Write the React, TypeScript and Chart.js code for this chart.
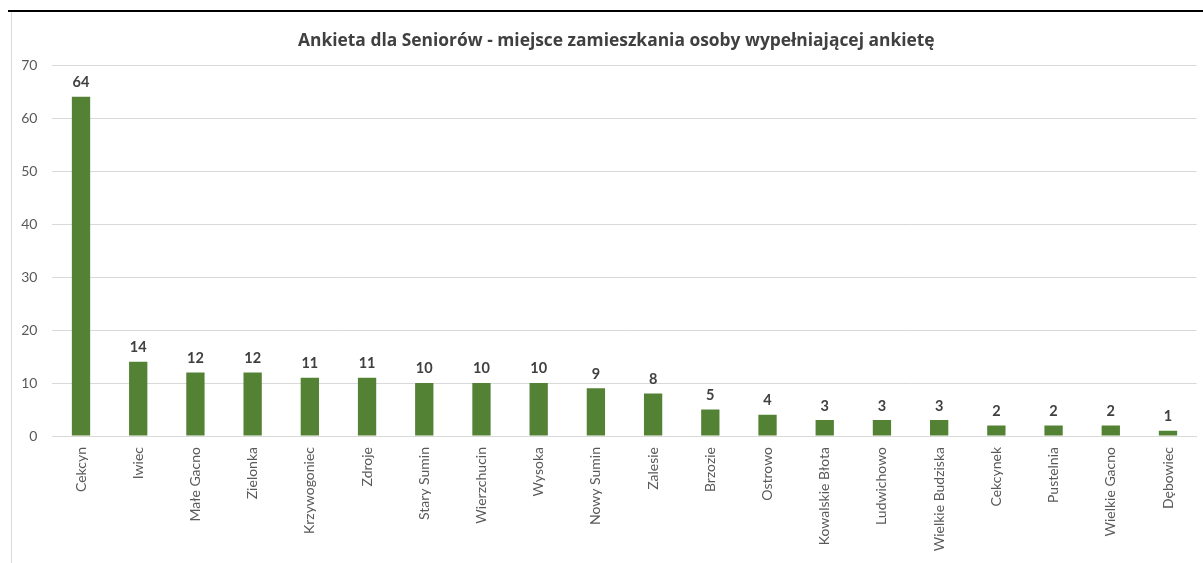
import React, { useEffect, useRef } from "react";
import { Chart, registerables } from "chart.js";

Chart.register(...registerables);

const categories = [
  "Cekcyn", "Iwiec", "Małe Gacno", "Zielonka", "Krzywogoniec", "Zdroje",
  "Stary Sumin", "Wierzchucin", "Wysoka", "Nowy Sumin", "Zalesie", "Brzozie",
  "Ostrowo", "Kowalskie Błota", "Ludwichowo", "Wielkie Budziska", "Cekcynek",
  "Pustelnia", "Wielkie Gacno", "Dębowiec",
];
const values = [64, 14, 12, 12, 11, 11, 10, 10, 10, 9, 8, 5, 4, 3, 3, 3, 2, 2, 2, 1];
const yTicks = [0, 10, 20, 30, 40, 50, 60, 70];
const titleText = "Ankieta dla Seniorów - miejsce zamieszkania osoby wypełniającej ankietę";

const FONT = "Lato, 'Open Sans', sans-serif";
const TITLE_FONT = "'Open Sans', Lato, sans-serif";

const valueLabels = {
  id: "valueLabels",
  afterDatasetsDraw(chart: any) {
    const ctx = chart.ctx;
    const meta = chart.getDatasetMeta(0);
    ctx.save();
    ctx.font = `bold 14.5px ${FONT}`;
    ctx.fillStyle = "#404040";
    ctx.textAlign = "center";
    ctx.textBaseline = "bottom";
    meta.data.forEach((bar: any, i: number) => {
      ctx.fillText(String(values[i]), bar.x, bar.y - 7);
    });
    ctx.restore();
  },
};

// Excel centres the title over the whole chart object, which is wider than the visible crop
const titleShift = {
  id: "titleShift",
  afterLayout(chart: any) {
    if (chart.titleBlock) chart.titleBlock.left += 24;
  },
};

export default function App() {
  const ref = useRef<HTMLCanvasElement | null>(null);
  useEffect(() => {
    if (!ref.current) return;
    const chart = new Chart(ref.current, {
      type: "bar",
      data: {
        labels: categories,
        datasets: [
          {
            data: values,
            backgroundColor: "#548235",
            barPercentage: 0.32,
            categoryPercentage: 1,
          },
        ],
      },
      options: {
        animation: false,
        responsive: false,
        maintainAspectRatio: false,
        layout: { padding: { left: 0, right: 6.4, top: 0, bottom: 0 } },
        plugins: {
          legend: { display: false },
          tooltip: { enabled: false },
          title: {
            display: true,
            text: titleText,
            color: "#404040",
            font: { family: TITLE_FONT, size: 17.4, weight: "bold" },
            padding: { top: 17.56, bottom: 13.56 },
          },
        },
        scales: {
          x: {
            grid: { display: false, drawTicks: false },
            border: { display: true, color: "#d9d9d9" },
            ticks: {
              color: "#595959",
              font: { family: FONT, size: 14 },
              minRotation: 90,
              maxRotation: 90,
              autoSkip: false,
              padding: 11,
            },
            afterFit(scale: any) {
              scale.height = 127;
            },
          },
          y: {
            min: 0,
            max: 70,
            afterBuildTicks(scale: any) {
              scale.ticks = yTicks.map((v) => ({ value: v }));
            },
            grid: { color: "#d9d9d9", drawTicks: false },
            border: { display: false },
            ticks: {
              color: "#595959",
              font: { family: FONT, size: 14 },
              padding: 15,
            },
            afterFit(scale: any) {
              scale.width = 40.4;
            },
          },
        },
      },
      plugins: [valueLabels, titleShift],
    });
    return () => chart.destroy();
  }, []);

  return (
    <div style={{ position: "absolute", left: 0, top: 0, width: 1203, height: 563, background: "#fff", overflow: "hidden" }}>
      <div style={{ position: "absolute", left: 8, top: 10, width: 1195, height: 2, background: "#000" }} />
      <div style={{ position: "absolute", left: 11, top: 12, width: 1, height: 551, background: "#d9d9d9" }} />
      <canvas
        ref={ref}
        width={1191}
        height={550}
        style={{ position: "absolute", left: 12, top: 13, width: 1191, height: 550 }}
      />
    </div>
  );
}
